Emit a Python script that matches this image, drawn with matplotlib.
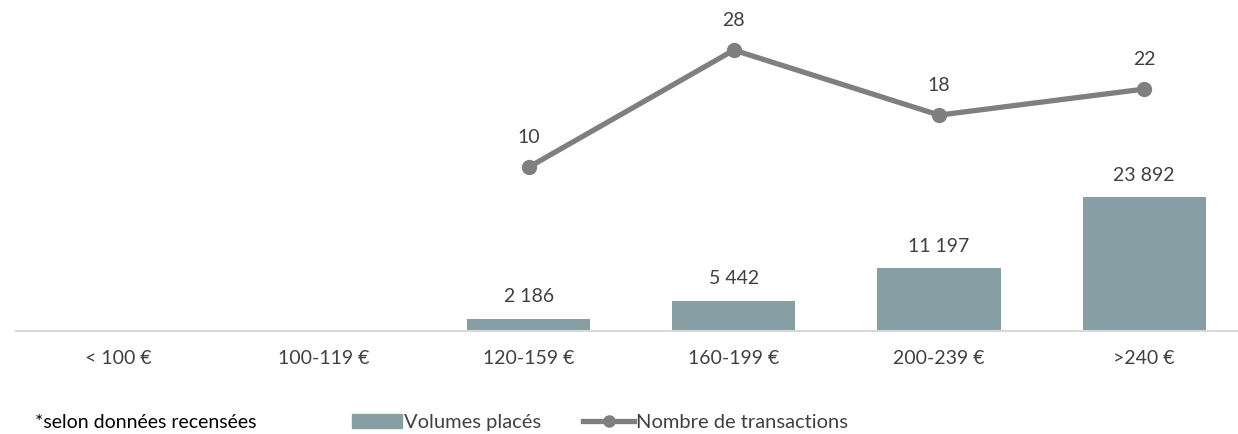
import matplotlib.pyplot as plt
from matplotlib.lines import Line2D
from matplotlib.patches import Patch
import numpy as np

# data
categories = ["< 100 €", "100-119 €", "120-159 €", "160-199 €", "200-239 €", ">240 €"]
volumes = [0, 0, 2186, 5442, 11197, 23892]
transactions = [np.nan, np.nan, 10, 28, 18, 22]

bar_color = "#879FA4"
line_color = "#7F7F7F"
text_color = "#404040"

plt.rcParams["font.family"] = ["Lato", "DejaVu Sans"]

fig = plt.figure(figsize=(12.38, 4.34), dpi=100)
ax = fig.add_axes([0.013, 0.2373, 0.994, 0.7627])
x = np.arange(len(categories))

# bars: volumes
ax.bar(x, volumes, width=0.6, color=bar_color, zorder=2)
ax.set_xlim(-0.5, len(categories) - 0.5)
ax.set_ylim(0, 59100)
for xi, v in zip(x, volumes):
    if v > 0:
        ax.text(xi, v + 3900, f"{v:,}".replace(",", " "), ha="center", va="center",
                fontsize=14, color=text_color)

for s in ["top", "right", "left"]:
    ax.spines[s].set_visible(False)
ax.spines["bottom"].set_color("#D9D9D9")
ax.spines["bottom"].set_linewidth(1.5)
ax.set_yticks([])
ax.set_xticks(x)
ax.set_xticklabels(categories, fontsize=14, color=text_color)
ax.tick_params(axis="x", length=0, pad=14)

# line: transactions
ax2 = ax.twinx()
ax2.plot(x, transactions, color=line_color, lw=3.8, marker="o", markersize=10, zorder=3)
ax2.set_ylim(-15.2, 35.7)
ax2.axis("off")
for xi, v in zip(x, transactions):
    if not np.isnan(v):
        ax2.text(xi, v + 4.6, f"{v:.0f}", ha="center", va="center", fontsize=14, color=text_color)

# footer + legend
fig.text(0.028, 0.026, "*selon données recensées", fontsize=14, color="black", va="center")

handles = [Patch(color=bar_color),
           Line2D([0], [0], color=line_color, lw=3.8, marker="o", markersize=8)]
fig.legend(handles, ["Volumes placés", "Nombre de transactions"], loc="center left",
           bbox_to_anchor=(0.284, 0.026), ncol=2, frameon=False, fontsize=14.5,
           handlelength=2.5, handletextpad=0.1, columnspacing=2.1, labelcolor=text_color,
           borderpad=0, borderaxespad=0)

fig.savefig("out.png", dpi=100)
